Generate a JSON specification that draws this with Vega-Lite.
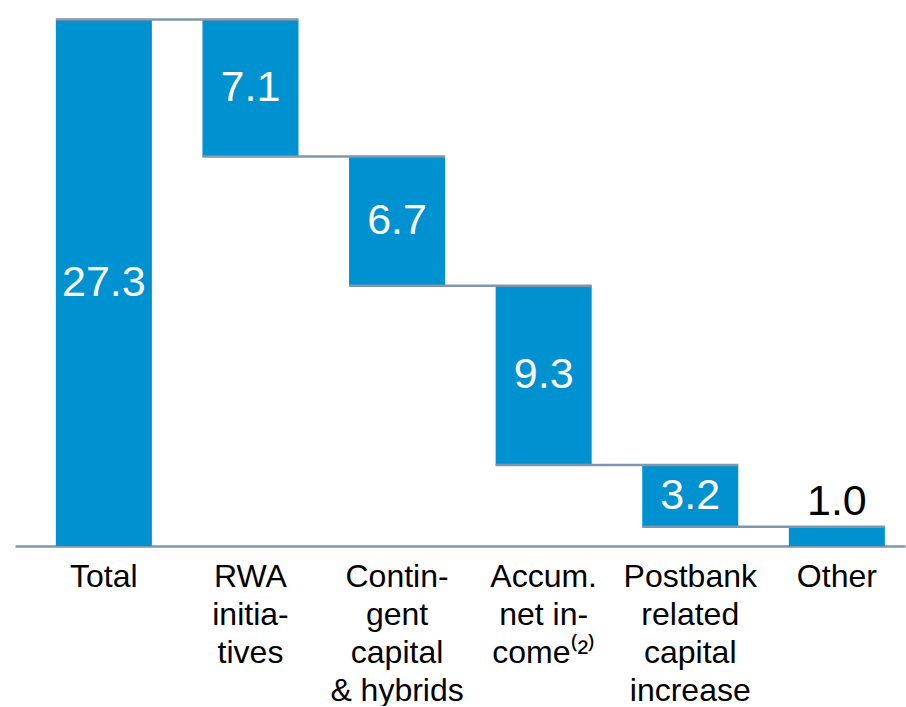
{
  "$schema": "https://vega.github.io/schema/vega-lite/v6.json",
  "width": 890,
  "height": 540,
  "padding": {"left": 15, "top": 6, "right": 1, "bottom": 0},
  "autosize": {"type": "pad"},
  "background": "white",
  "config": {"view": {"stroke": null}, "font": "Liberation Sans"},
  "data": {
    "values": [
      {"label": "Total", "start": 0, "end": 27.3, "value": "27.3", "next": "RWA|initia-|tives", "level": 27.3},
      {"label": "RWA|initia-|tives", "start": 27.3, "end": 20.2, "value": "7.1", "next": "Contin-|gent|capital|& hybrids", "level": 20.2},
      {"label": "Contin-|gent|capital|& hybrids", "start": 20.2, "end": 13.5, "value": "6.7", "next": "Accum.|net in-|come⁽²⁾", "level": 13.5},
      {"label": "Accum.|net in-|come⁽²⁾", "start": 13.5, "end": 4.2, "value": "9.3", "next": "Postbank|related|capital|increase", "level": 4.2},
      {"label": "Postbank|related|capital|increase", "start": 4.2, "end": 1.0, "value": "3.2", "next": "Other", "level": 1.0},
      {"label": "Other", "start": 1.0, "end": 0, "value": "1.0", "next": null, "level": null}
    ]
  },
  "encoding": {
    "x": {
      "field": "label",
      "type": "nominal",
      "sort": null,
      "scale": {
        "domain": ["Total", "RWA|initia-|tives", "Contin-|gent|capital|& hybrids", "Accum.|net in-|come⁽²⁾", "Postbank|related|capital|increase", "Other"],
        "paddingInner": 0.345,
        "paddingOuter": 0.208,
        "align": 0.67
      },
      "axis": {
        "title": null,
        "labelAngle": 0,
        "labelExpr": "split(datum.label, '|')",
        "labelFontSize": 32,
        "labelLineHeight": 38,
        "labelColor": "black",
        "labelPadding": 15,
        "labelBaseline": "top",
        "ticks": false,
        "domainColor": "#8096AA",
        "domainWidth": 2.5,
        "labelOverlap": false,
        "labelBound": false,
        "labelFlush": false
      }
    }
  },
  "layer": [
    {
      "mark": {"type": "bar", "color": "#0091D0"},
      "encoding": {
        "y": {"field": "start", "type": "quantitative", "scale": {"domain": [0, 28], "nice": false}, "axis": null},
        "y2": {"field": "end"}
      }
    },
    {
      "transform": [{"filter": "datum.next != null"}],
      "mark": {"type": "rule", "color": "#8096AA", "strokeWidth": 2.5},
      "encoding": {
        "x": {"field": "label", "type": "nominal", "bandPosition": 0},
        "x2": {"field": "next", "bandPosition": 1},
        "y": {"field": "level", "type": "quantitative"}
      }
    },
    {
      "transform": [
        {"filter": "datum.label != 'Other'"},
        {"calculate": "(datum.start + datum.end) / 2", "as": "mid"}
      ],
      "mark": {"type": "text", "color": "white", "fontSize": 43, "baseline": "middle", "align": "center"},
      "encoding": {
        "y": {"field": "mid", "type": "quantitative"},
        "text": {"field": "value"}
      }
    },
    {
      "transform": [{"filter": "datum.label == 'Other'"}],
      "mark": {"type": "text", "color": "black", "fontSize": 43, "baseline": "alphabetic", "align": "center", "dy": -12},
      "encoding": {
        "y": {"field": "start", "type": "quantitative"},
        "text": {"field": "value"}
      }
    }
  ]
}
